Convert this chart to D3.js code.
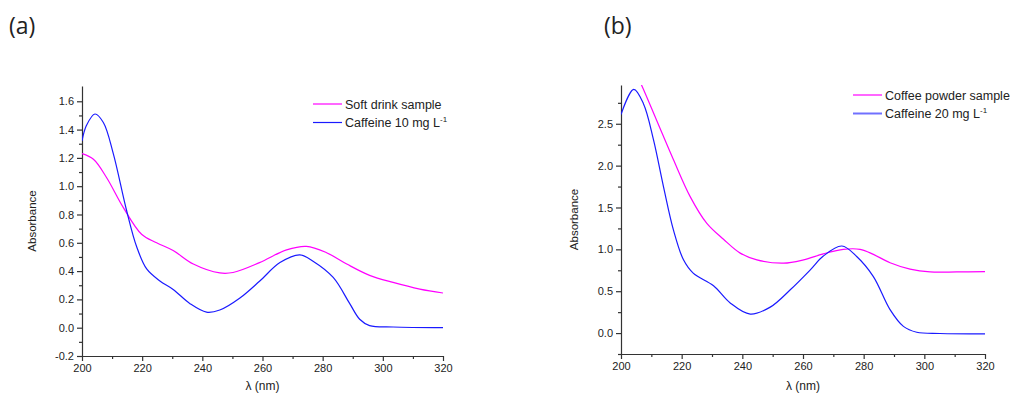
<!DOCTYPE html>
<html>
<head>
<meta charset="utf-8">
<script src="https://cdn.jsdelivr.net/npm/d3@7"></script>
<style>
  body { margin: 0; background: #fff; }
  svg text { font-family: "Liberation Sans", Arial, sans-serif; fill: #222; }
  .axis path, .axis line { stroke: #333; stroke-width: 1.2; }
  .axis text { font-size: 11px; font-family: "Liberation Sans", Arial, sans-serif; }
</style>
</head>
<body>
<div id="chart"></div>
<script>
// panel (a) - soft drink
var softWl = [200, 203.8, 208.2, 213.7, 219.8, 224.8, 230.3, 237, 245.8, 250.2, 259, 268, 274.6, 281.3, 288, 295.6, 303.4, 312.3, 320];
var softAbs = [1.23, 1.19, 1.06, 0.85, 0.66, 0.60, 0.545, 0.45, 0.387, 0.39, 0.46, 0.55, 0.575, 0.53, 0.45, 0.37, 0.32, 0.273, 0.245];
var caf10Wl = [200, 201.5, 204.3, 207.1, 210.4, 214.8, 218.2, 221.5, 225.9, 230.3, 235.9, 241.4, 245.8, 252.5, 259.1, 265.8, 272.4, 276.8, 283.5, 289, 292.3, 295.6, 303.4, 320];
var caf10Abs = [1.32, 1.43, 1.51, 1.45, 1.23, 0.83, 0.57, 0.415, 0.33, 0.27, 0.17, 0.11, 0.125, 0.21, 0.33, 0.46, 0.515, 0.47, 0.355, 0.17, 0.06, 0.015, 0.005, 0.0];

// panel (b) - coffee powder
var coffeeWl = [200, 203, 206.8, 211.7, 217.3, 222.8, 228.3, 233.8, 239.3, 244.8, 253.6, 260.2, 266.7, 273.3, 278.8, 283.2, 288.7, 295.3, 301.9, 310.7, 320];
var coffeeAbs = [3.5, 3.25, 2.96, 2.545, 2.07, 1.63, 1.31, 1.12, 0.955, 0.875, 0.835, 0.875, 0.946, 1.0, 1.0, 0.94, 0.84, 0.764, 0.73, 0.73, 0.735];
var caf20Wl = [200, 204.2, 207.4, 210.7, 214, 217.3, 220.6, 223.8, 230.5, 236, 242.6, 249.2, 255.8, 262.4, 266.7, 272.8, 277.7, 283.2, 288.7, 293.1, 297.5, 305.1, 320];
var caf20Abs = [2.61, 2.91, 2.74, 2.31, 1.75, 1.23, 0.875, 0.716, 0.565, 0.36, 0.227, 0.31, 0.517, 0.755, 0.92, 1.04, 0.915, 0.675, 0.28, 0.08, 0.01, -0.005, -0.01];

var xTicks = [200, 220, 240, 260, 280, 300, 320];
var yTicksA = [-0.2, 0.0, 0.2, 0.4, 0.6, 0.8, 1.0, 1.2, 1.4, 1.6];
var yTicksB = [0.0, 0.5, 1.0, 1.5, 2.0, 2.5];

var svg = d3.select("#chart").append("svg")
  .attr("width", 1014).attr("height", 394);

function zip(xs, ys) { return xs.map(function(x, i) { return {x: x, y: ys[i]}; }); }

// origin style labels use a plain hyphen
var fmt1 = function(d) { return d3.format(".1f")(d).replace("\u2212", "-"); };

function panel(cfg) {
  var x = d3.scaleLinear().domain([200, 320]).range([cfg.left, cfg.right]);
  var y = d3.scaleLinear().domain(cfg.yDomain).range([cfg.bottom, cfg.top]);
  var g = svg.append("g");

  g.append("clipPath").attr("id", "clip" + cfg.id)
    .append("rect").attr("x", cfg.left).attr("y", cfg.top)
    .attr("width", cfg.right - cfg.left).attr("height", cfg.bottom - cfg.top);

  // minor ticks first
  var xMinor = d3.range(210, 320, 20);
  g.append("g").attr("class", "axis")
    .attr("transform", "translate(0," + cfg.bottom + ")")
    .call(d3.axisBottom(x).tickValues(xMinor).tickSize(3).tickFormat(""))
    .select(".domain").remove();
  g.append("g").attr("class", "axis")
    .attr("transform", "translate(" + cfg.left + ",0)")
    .call(d3.axisLeft(y).tickValues(cfg.yMinor).tickSize(3).tickFormat(""))
    .select(".domain").remove();

  g.append("g").attr("class", "axis")
    .attr("transform", "translate(0," + cfg.bottom + ")")
    .call(d3.axisBottom(x).tickValues(xTicks).tickSize(5).tickSizeOuter(0).tickPadding(3).tickFormat(d3.format("d")));
  g.append("g").attr("class", "axis")
    .attr("transform", "translate(" + cfg.left + ",0)")
    .call(d3.axisLeft(y).tickValues(cfg.yTicks).tickSize(5).tickSizeOuter(0).tickPadding(3).tickFormat(fmt1));

  var line = d3.line().x(function(d) { return x(d.x); }).y(function(d) { return y(d.y); })
    .curve(d3.curveCatmullRom.alpha(0.5));
  var plot = g.append("g").attr("clip-path", "url(#clip" + cfg.id + ")");
  plot.append("path").datum(zip(cfg.sampleWl, cfg.sampleAbs))
    .attr("fill", "none").attr("stroke", "#ff00ff").attr("stroke-width", 1.2).attr("d", line);
  plot.append("path").datum(zip(cfg.cafWl, cfg.cafAbs))
    .attr("fill", "none").attr("stroke", "#1a1aff").attr("stroke-width", 1.2).attr("d", line);

  // axis titles
  g.append("text").attr("x", (cfg.left + cfg.right) / 2).attr("y", 390)
    .attr("text-anchor", "middle").style("font-size", "12px").text("λ (nm)");
  g.append("text").attr("transform", "translate(" + cfg.yLabelX + "," + (cfg.top + cfg.bottom) / 2 + ") rotate(-90)")
    .attr("text-anchor", "middle").style("font-size", "11.5px").text("Absorbance");

  // panel letter
  g.append("text").attr("x", cfg.letterX).attr("y", 34)
    .style("font-family", "'Open Sans', sans-serif").style("font-size", "23px").text(cfg.letter);

  // legend
  var leg = g.append("g");
  [[cfg.sampleName, "#ff00ff", 1.2], [cfg.cafName, cfg.legCafColor, cfg.legCafWidth]].forEach(function(d, i) {
    var ly = cfg.legY + i * 18.5;
    leg.append("line").attr("x1", cfg.legX).attr("x2", cfg.legX + 29)
      .attr("y1", ly).attr("y2", ly).attr("stroke", d[1]).attr("stroke-width", d[2]);
    var t = leg.append("text").attr("x", cfg.legX + 32).attr("y", ly + 4.5)
      .style("font-size", "12.5px");
    if (i === 0) t.text(d[0]);
    else {
      t.text(d[0] + " L");
      t.append("tspan").attr("dy", -5).style("font-size", "8px").text("-1");
    }
  });
}

panel({
  id: "a", letter: "(a)", letterX: 9,
  left: 82, right: 443, top: 86, bottom: 356,
  yDomain: [-0.2, 1.708], yTicks: yTicksA, yMinor: d3.range(-0.1, 1.7, 0.2),
  yLabelX: 36,
  sampleWl: softWl, sampleAbs: softAbs, cafWl: caf10Wl, cafAbs: caf10Abs,
  sampleName: "Soft drink sample", cafName: "Caffeine 10 mg",
  legX: 313, legY: 104, legCafColor: "#1a1aff", legCafWidth: 1.2
});

panel({
  id: "b", letter: "(b)", letterX: 604,
  left: 621, right: 985, top: 85, bottom: 354,
  yDomain: [-0.25, 2.963], yTicks: yTicksB, yMinor: [-0.25, 0.25, 0.75, 1.25, 1.75, 2.25, 2.75],
  yLabelX: 578,
  sampleWl: coffeeWl, sampleAbs: coffeeAbs, cafWl: caf20Wl, cafAbs: caf20Abs,
  sampleName: "Coffee powder sample", cafName: "Caffeine 20 mg",
  legX: 853, legY: 95, legCafColor: "#7070ff", legCafWidth: 2
});
</script>
</body>
</html>
